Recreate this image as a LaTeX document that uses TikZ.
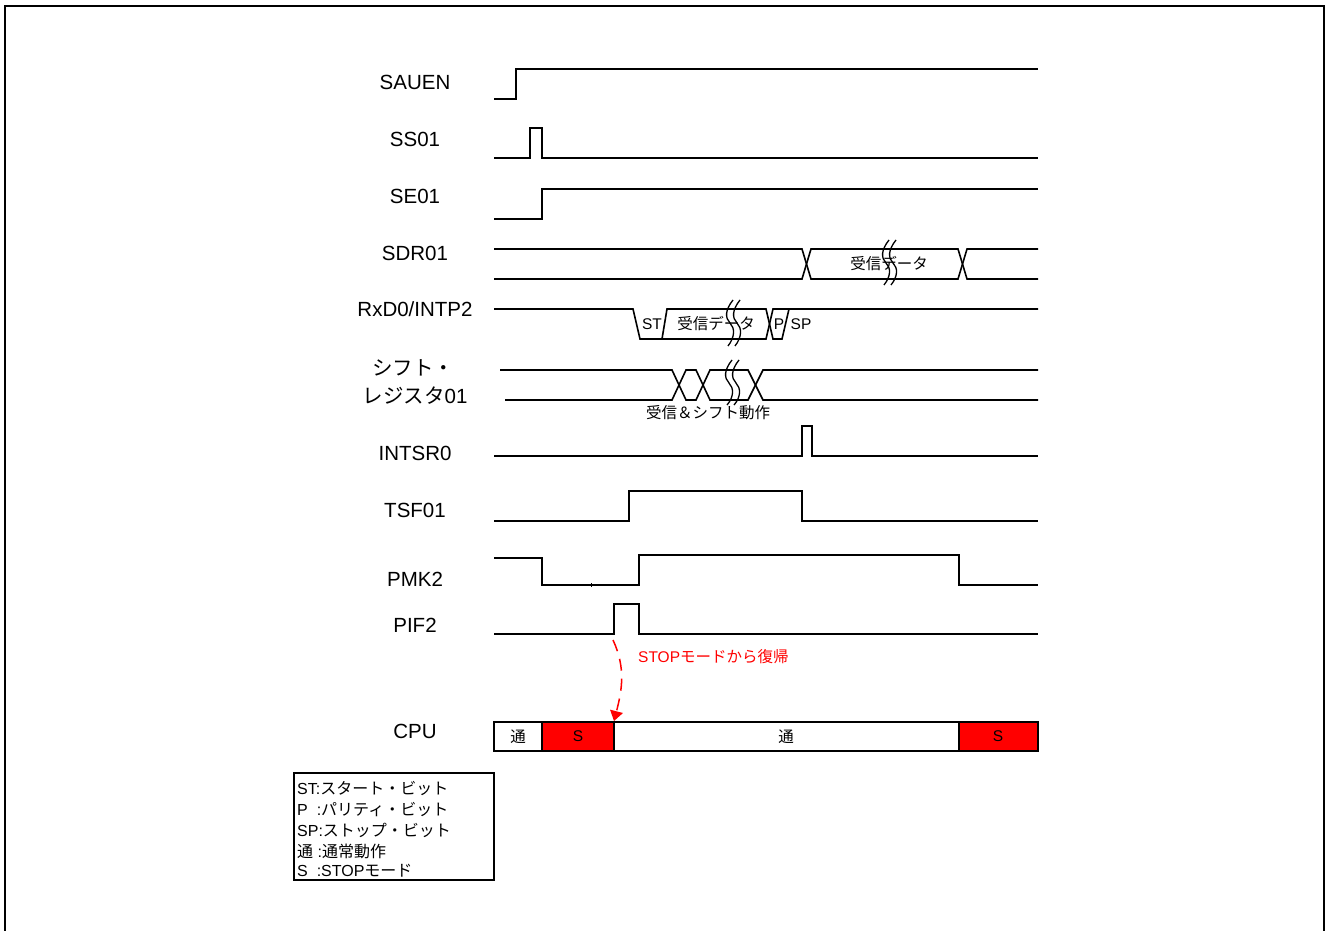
\documentclass[tikz,border=0pt]{standalone}
\usepackage{fontspec}
\setmainfont{Liberation Sans}
\newfontfamily\jpfont{Noto Sans CJK JP}
\usetikzlibrary{arrows.meta}
\newcommand{\jp}[1]{{\jpfont #1}}
\definecolor{stopred}{RGB}{255,0,0}
\begin{document}
\begin{tikzpicture}[x=1pt,y=-1pt,
  sig/.style={line width=1.6pt, line join=miter},
  lbl/.style={font=\fontsize{20.5}{22}\selectfont, inner sep=0pt},
  small/.style={font=\fontsize{15.5}{17}\selectfont, inner sep=0pt},
  legtxt/.style={font=\fontsize{16}{18}\selectfont, inner sep=0pt, anchor=west},
  brk/.style={line width=1.3pt},
  cpubox/.style={draw, line width=1.4pt},
  redarrow/.style={draw=stopred, line width=1.5pt, dash pattern=on 12pt off 8pt,
     -{Triangle[length=10pt,width=13pt]}}]
\useasboundingbox (0,0) rectangle (1328,931);
\draw[line width=2pt] (5,945) -- (5,6) -- (1324,6) -- (1324,945);

% labels
\node[lbl] (lSAUEN) at (415,82) {SAUEN};
\node[lbl] (lSS) at (415,139) {SS01};
\node[lbl] (lSE) at (415,196) {SE01};
\node[lbl] (lSDR) at (415,253) {SDR01};
\node[lbl] (lRXD) at (415,309) {RxD0/INTP2};
\node[lbl] (lSR1) at (413,368) {\jp{シフト・}};
\node[lbl] (lSR2) at (415,396) {\jp{レジスタ}01};
\node[lbl] (lINT) at (415,453) {INTSR0};
\node[lbl] (lTSF) at (415,510) {TSF01};
\node[lbl] (lPMK) at (415,579) {PMK2};
\node[lbl] (lPIF) at (415,625) {PIF2};
\node[lbl] (lCPU) at (415,731) {CPU};

% SAUEN
\draw[sig] (494,99) -- (516,99) -- (516,69) -- (1038,69);
% SS01
\draw[sig] (494,158) -- (530,158) -- (530,128) -- (542,128) -- (542,158) -- (1038,158);
% SE01
\draw[sig] (494,219) -- (542,219) -- (542,189) -- (1038,189);
% SDR01
\draw[sig] (494,249) -- (802,249) -- (811,279) -- (958,279) -- (967,249) -- (1038,249);
\draw[sig] (494,279) -- (802,279) -- (811,249) -- (958,249) -- (967,279) -- (1038,279);
\node[small] (tSDR) at (889,264) {\jp{受信データ}};
\foreach \bx in {886,893}{
  \draw[brk] (\bx+3,240) .. controls (\bx-5,250) and (\bx-5,258) .. (\bx,263)
     .. controls (\bx+5,268) and (\bx+5,276) .. (\bx-2,285);
}
% RxD0/INTP2
\draw[sig] (494,309) -- (633,309) -- (640,339) -- (766,339) -- (773,309) -- (789,309);
\draw[sig] (662,339) -- (667,309) -- (766,309) -- (773,339) -- (782,339) -- (789,309) -- (1038,309);
\node[small] (tST) at (652,324) {ST};
\node[small] (tRXD) at (716,324) {\jp{受信データ}};
\node[small] (tP) at (779,324) {P};
\node[small] (tSP) at (801,324) {SP};
\foreach \bx in {730,737}{
  \draw[brk] (\bx+3,300) .. controls (\bx-5,310) and (\bx-5,318) .. (\bx,323)
     .. controls (\bx+5,328) and (\bx+5,337) .. (\bx-2,346);
}
% shift register
\draw[sig] (500,370) -- (672,370) -- (686,400) -- (696,400) -- (710,370) -- (748,370) -- (763,400) -- (1038,400);
\draw[sig] (505,400) -- (672,400) -- (686,370) -- (696,370) -- (710,400) -- (748,400) -- (763,370) -- (1038,370);
\foreach \bx in {729,736}{
  \draw[brk] (\bx+3,360) .. controls (\bx-5,370) and (\bx-5,378) .. (\bx,383)
     .. controls (\bx+5,388) and (\bx+5,397) .. (\bx-2,405);
}
\node[small] (tSR) at (708,413) {\jp{受信＆シフト動作}};
% INTSR0
\draw[sig] (494,456) -- (802,456) -- (802,426) -- (812,426) -- (812,456) -- (1038,456);
% TSF01
\draw[sig] (494,521) -- (629,521) -- (629,491) -- (802,491) -- (802,521) -- (1038,521);
% PMK2
\draw[sig] (494,558) -- (542,558) -- (542,585) -- (639,585) -- (639,555) -- (959,555) -- (959,585) -- (1038,585);
\draw[line width=1pt] (591,583) -- (591,587);
% PIF2
\draw[sig] (494,634) -- (614,634) -- (614,604) -- (639,604) -- (639,634) -- (1038,634);

% CPU
\draw[cpubox, fill=white] (494,722) rectangle (542,751);
\draw[cpubox, fill=stopred] (542,722) rectangle (614,751);
\draw[cpubox, fill=white] (614,722) rectangle (959,751);
\draw[cpubox, fill=stopred] (959,722) rectangle (1038,751);
\node[small] (c1) at (518,737) {\jp{通}};
\node[small] (c2) at (578,736) {S};
\node[small] (c3) at (786,737) {\jp{通}};
\node[small] (c4) at (998,736) {S};

% red arrow
\coordinate (arrS) at (613,640);
\coordinate (arrE) at (614,721);
\draw[redarrow] (arrS) .. controls (626,668) and (622,690) .. (arrE);
\node[small, text=stopred, anchor=west] (tStop) at (638,657) {STOP\jp{モードから復帰}};

% legend
\draw[line width=1.4pt] (294,773) rectangle (494,880);
\node[legtxt] (g1) at (297,789) {ST:\jp{スタート・ビット}};
\node[legtxt] (g2) at (297,810) {P\ \ :\jp{パリティ・ビット}};
\node[legtxt] (g3) at (297,830) {SP:\jp{ストップ・ビット}};
\node[legtxt] (g4) at (297,851) {\jp{通}\ :\jp{通常動作}};
\node[legtxt] (g5) at (297,871) {S\ \ :STOP\jp{モード}};
\end{tikzpicture}
\end{document}
